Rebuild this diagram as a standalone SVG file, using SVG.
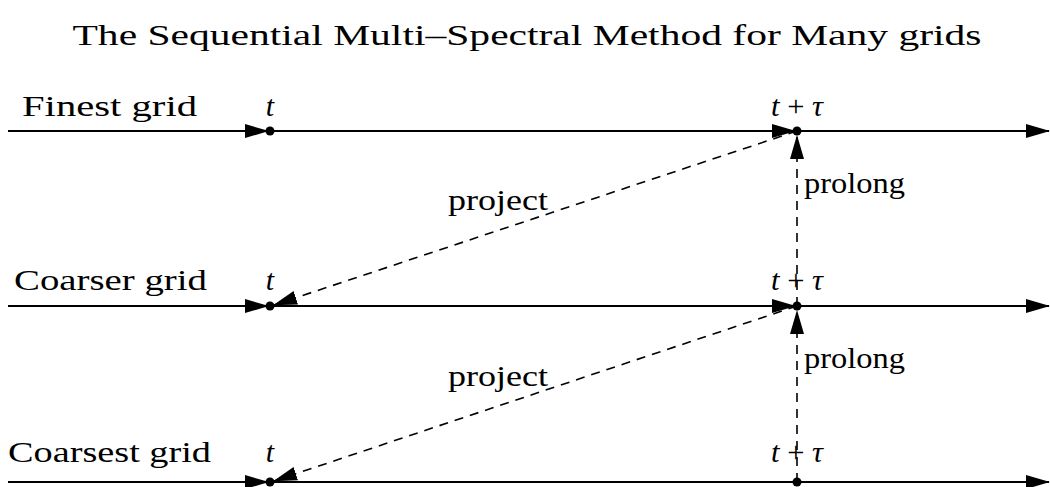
<svg xmlns="http://www.w3.org/2000/svg" width="1050" height="487" viewBox="0 0 1050 487">
<style>
text{font-family:"Liberation Serif","DejaVu Serif",serif;font-size:30px;fill:#000}
.it{font-style:italic}
.line{stroke:#000;stroke-width:2;fill:none}
.dash{stroke:#000;stroke-width:1.6;fill:none;stroke-dasharray:9,7}
</style>
<defs>
<marker id="ah" markerWidth="24" markerHeight="14" refX="23" refY="7" orient="auto" markerUnits="userSpaceOnUse">
<path d="M0,0 L24,7 L0,14 Z" fill="#000"/>
</marker>
</defs>
<rect width="1050" height="487" fill="#fff"/>
<text x="527" y="45" text-anchor="middle" textLength="909" lengthAdjust="spacingAndGlyphs">The Sequential Multi–Spectral Method for Many grids</text>
<g id="connectors">
<line class="line" x1="8" y1="131" x2="268" y2="131" marker-end="url(#ah)"/>
<line class="line" x1="270" y1="131" x2="795" y2="131" marker-end="url(#ah)"/>
<line class="line" x1="797" y1="131" x2="1049" y2="131" marker-end="url(#ah)"/>
<line class="line" x1="8" y1="306" x2="268" y2="306" marker-end="url(#ah)"/>
<line class="line" x1="270" y1="306" x2="795" y2="306" marker-end="url(#ah)"/>
<line class="line" x1="797" y1="306" x2="1049" y2="306" marker-end="url(#ah)"/>
<line class="line" x1="8" y1="482" x2="268" y2="482" marker-end="url(#ah)"/>
<line class="line" x1="270" y1="482" x2="1049" y2="482" marker-end="url(#ah)"/>
<line class="dash" x1="797" y1="131" x2="274" y2="305" marker-end="url(#ah)"/>
<line class="dash" x1="797" y1="306" x2="274" y2="481" marker-end="url(#ah)"/>
<line class="dash" x1="797" y1="306" x2="797" y2="136" marker-end="url(#ah)"/>
<line class="dash" x1="797" y1="482" x2="797" y2="311" marker-end="url(#ah)"/>
<circle cx="270" cy="131" r="4.5"/>
<circle cx="797" cy="131" r="4.5"/>
<circle cx="270" cy="306" r="4.5"/>
<circle cx="797" cy="306" r="4.5"/>
<circle cx="270" cy="482" r="4.5"/>
<circle cx="797" cy="482" r="4.5"/>
</g>
<g id="finest">
<text x="22" y="116" textLength="175" lengthAdjust="spacingAndGlyphs">Finest grid</text>
<text class="it" x="270" y="116" text-anchor="middle">t</text>
<text x="797" y="116" text-anchor="middle" textLength="52" lengthAdjust="spacingAndGlyphs"><tspan class="it">t</tspan> + <tspan class="it">τ</tspan></text>
</g>
<g id="coarser">
<text x="14" y="290" textLength="193" lengthAdjust="spacingAndGlyphs">Coarser grid</text>
<text class="it" x="270" y="290" text-anchor="middle">t</text>
<text x="797" y="290" text-anchor="middle" textLength="52" lengthAdjust="spacingAndGlyphs"><tspan class="it">t</tspan> + <tspan class="it">τ</tspan></text>
</g>
<g id="coarsest">
<text x="8" y="462" textLength="203" lengthAdjust="spacingAndGlyphs">Coarsest grid</text>
<text class="it" x="270" y="462" text-anchor="middle">t</text>
<text x="797" y="462" text-anchor="middle" textLength="52" lengthAdjust="spacingAndGlyphs"><tspan class="it">t</tspan> + <tspan class="it">τ</tspan></text>
</g>
<g id="labels">
<text x="448" y="210" textLength="100" lengthAdjust="spacingAndGlyphs">project</text>
<text x="804" y="193" textLength="101" lengthAdjust="spacingAndGlyphs">prolong</text>
<text x="448" y="386" textLength="100" lengthAdjust="spacingAndGlyphs">project</text>
<text x="804" y="368" textLength="101" lengthAdjust="spacingAndGlyphs">prolong</text>
</g>
</svg>
